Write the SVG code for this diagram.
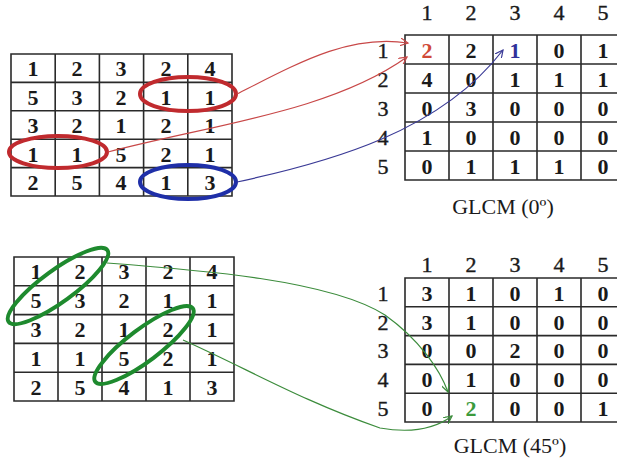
<svg xmlns="http://www.w3.org/2000/svg" width="617" height="461" viewBox="0 0 617 461">
<style>
.grid{fill:none;stroke:#2a2a2a;stroke-width:1.6}
.v{font-family:"Liberation Serif","Times New Roman",serif;font-size:22px;font-weight:bold;fill:#1a1a1a;text-anchor:middle}
.h{font-family:"Liberation Serif","Times New Roman",serif;font-size:22px;fill:#1a1a1a;text-anchor:middle;stroke:#1a1a1a;stroke-width:0.4}
.cap{font-family:"Liberation Serif","Times New Roman",serif;font-size:22px;fill:#1a1a1a;text-anchor:middle}
.ell{fill:none;stroke-width:4}
.con{fill:none;stroke-width:1.2}
</style>
<defs>
<marker id="ar" markerWidth="10" markerHeight="8" refX="8" refY="4" orient="auto" markerUnits="userSpaceOnUse"><path d="M0,0 L8,4 L0,8" fill="none" stroke="#c84848" stroke-width="1.2"/></marker>
<marker id="ab" markerWidth="10" markerHeight="8" refX="8" refY="4" orient="auto" markerUnits="userSpaceOnUse"><path d="M0,0 L8,4 L0,8" fill="none" stroke="#3a3a96" stroke-width="1.2"/></marker>
<marker id="ag" markerWidth="10" markerHeight="8" refX="8" refY="4" orient="auto" markerUnits="userSpaceOnUse"><path d="M0,0 L8,4 L0,8" fill="none" stroke="#3c8c3c" stroke-width="1.2"/></marker>
</defs>
<rect width="617" height="461" fill="#ffffff"/>

<g id="matrix-top">
<path class="grid" d="M11,54H232V196H11Z M11,82.4H232 M11,110.8H232 M11,139.2H232 M11,167.6H232 M55.2,54V196 M99.4,54V196 M143.6,54V196 M187.8,54V196"/>
<text class="v" x="33" y="76">1</text><text class="v" x="77" y="76">2</text><text class="v" x="121" y="76">3</text><text class="v" x="166" y="76">2</text><text class="v" x="210" y="76">4</text>
<text class="v" x="33" y="104.5">5</text><text class="v" x="77" y="104.5">3</text><text class="v" x="121" y="104.5">2</text><text class="v" x="166" y="104.5">1</text><text class="v" x="210" y="104.5">1</text>
<text class="v" x="33" y="133">3</text><text class="v" x="77" y="133">2</text><text class="v" x="121" y="133">1</text><text class="v" x="166" y="133">2</text><text class="v" x="210" y="133">1</text>
<text class="v" x="33" y="161.5">1</text><text class="v" x="77" y="161.5">1</text><text class="v" x="121" y="161.5">5</text><text class="v" x="166" y="161.5">2</text><text class="v" x="210" y="161.5">1</text>
<text class="v" x="33" y="189.5">2</text><text class="v" x="77" y="189.5">5</text><text class="v" x="121" y="189.5">4</text><text class="v" x="166" y="189.5">1</text><text class="v" x="210" y="189.5">3</text>
</g>

<g id="glcm-0">
<path class="grid" d="M405,35H625V180H405Z M405,64H625 M405,93H625 M405,122H625 M405,151H625 M449,35V180 M493,35V180 M537,35V180 M581,35V180"/>
<text class="h" x="427" y="20">1</text><text class="h" x="471" y="20">2</text><text class="h" x="515" y="20">3</text><text class="h" x="559" y="20">4</text><text class="h" x="603" y="20">5</text>
<text class="h" x="383" y="57.5">1</text><text class="h" x="383" y="86.5">2</text><text class="h" x="383" y="115.5">3</text><text class="h" x="383" y="144.5">4</text><text class="h" x="383" y="173.5">5</text>
<text class="v" x="427" y="57.5" style="fill:#d04a38">2</text><text class="v" x="471" y="57.5">2</text><text class="v" x="515" y="57.5" style="fill:#30309a">1</text><text class="v" x="559" y="57.5">0</text><text class="v" x="603" y="57.5">1</text>
<text class="v" x="427" y="86.5">4</text><text class="v" x="471" y="86.5">0</text><text class="v" x="515" y="86.5">1</text><text class="v" x="559" y="86.5">1</text><text class="v" x="603" y="86.5">1</text>
<text class="v" x="427" y="115.5">0</text><text class="v" x="471" y="115.5">3</text><text class="v" x="515" y="115.5">0</text><text class="v" x="559" y="115.5">0</text><text class="v" x="603" y="115.5">0</text>
<text class="v" x="427" y="144.5">1</text><text class="v" x="471" y="144.5">0</text><text class="v" x="515" y="144.5">0</text><text class="v" x="559" y="144.5">0</text><text class="v" x="603" y="144.5">0</text>
<text class="v" x="427" y="173.5">0</text><text class="v" x="471" y="173.5">1</text><text class="v" x="515" y="173.5">1</text><text class="v" x="559" y="173.5">1</text><text class="v" x="603" y="173.5">0</text>
<text class="cap" x="503" y="214">GLCM (0º)</text>
</g>

<g id="matrix-bottom">
<path class="grid" d="M14,257H234V401H14Z M14,285.8H234 M14,314.6H234 M14,343.4H234 M14,372.2H234 M58,257V401 M102,257V401 M146,257V401 M190,257V401"/>
<text class="v" x="36" y="279">1</text><text class="v" x="80" y="279">2</text><text class="v" x="124" y="279">3</text><text class="v" x="168" y="279">2</text><text class="v" x="212" y="279">4</text>
<text class="v" x="36" y="308">5</text><text class="v" x="80" y="308">3</text><text class="v" x="124" y="308">2</text><text class="v" x="168" y="308">1</text><text class="v" x="212" y="308">1</text>
<text class="v" x="36" y="337">3</text><text class="v" x="80" y="337">2</text><text class="v" x="124" y="337">1</text><text class="v" x="168" y="337">2</text><text class="v" x="212" y="337">1</text>
<text class="v" x="36" y="365.5">1</text><text class="v" x="80" y="365.5">1</text><text class="v" x="124" y="365.5">5</text><text class="v" x="168" y="365.5">2</text><text class="v" x="212" y="365.5">1</text>
<text class="v" x="36" y="394.5">2</text><text class="v" x="80" y="394.5">5</text><text class="v" x="124" y="394.5">4</text><text class="v" x="168" y="394.5">1</text><text class="v" x="212" y="394.5">3</text>
</g>

<g id="glcm-45">
<path class="grid" d="M405,278H625V422H405Z M405,306.8H625 M405,335.6H625 M405,364.4H625 M405,393.2H625 M449,278V422 M493,278V422 M537,278V422 M581,278V422"/>
<text class="h" x="427" y="272">1</text><text class="h" x="471" y="272">2</text><text class="h" x="515" y="272">3</text><text class="h" x="559" y="272">4</text><text class="h" x="603" y="272">5</text>
<text class="h" x="383" y="300.5">1</text><text class="h" x="383" y="329.5">2</text><text class="h" x="383" y="358">3</text><text class="h" x="383" y="387">4</text><text class="h" x="383" y="415.5">5</text>
<text class="v" x="427" y="300.5">3</text><text class="v" x="471" y="300.5">1</text><text class="v" x="515" y="300.5">0</text><text class="v" x="559" y="300.5">1</text><text class="v" x="603" y="300.5">0</text>
<text class="v" x="427" y="329.5">3</text><text class="v" x="471" y="329.5">1</text><text class="v" x="515" y="329.5">0</text><text class="v" x="559" y="329.5">0</text><text class="v" x="603" y="329.5">0</text>
<text class="v" x="427" y="358">0</text><text class="v" x="471" y="358">0</text><text class="v" x="515" y="358">2</text><text class="v" x="559" y="358">0</text><text class="v" x="603" y="358">0</text>
<text class="v" x="427" y="387">0</text><text class="v" x="471" y="387">1</text><text class="v" x="515" y="387">0</text><text class="v" x="559" y="387">0</text><text class="v" x="603" y="387">0</text>
<text class="v" x="427" y="415.5">0</text><text class="v" x="471" y="415.5" style="fill:#3c9a3c">2</text><text class="v" x="515" y="415.5">0</text><text class="v" x="559" y="415.5">0</text><text class="v" x="603" y="415.5">1</text>
<text class="cap" x="510" y="453">GLCM (45º)</text>
</g>

<g id="highlights">
<ellipse class="ell" cx="188" cy="94" rx="48" ry="17" stroke="#c02a2e"/>
<ellipse class="ell" cx="58" cy="152" rx="49" ry="16" stroke="#c02a2e"/>
<ellipse class="ell" cx="188" cy="182" rx="48" ry="17" stroke="#1f2fa8"/>
<ellipse class="ell" cx="58" cy="286" rx="61" ry="16" stroke="#1e8a2e" transform="rotate(-36 58 286)"/>
<ellipse class="ell" cx="144" cy="345" rx="61" ry="16" stroke="#1e8a2e" transform="rotate(-37 144 345)"/>
</g>

<g id="connectors">
<path class="con" d="M237,94 C300,62 350,34 408,43" stroke="#c84848" marker-end="url(#ar)"/>
<path class="con" d="M108,152 C210,125 330,112 407,57" stroke="#c84848" marker-end="url(#ar)"/>
<path class="con" d="M237,182 C330,162 440,132 503,50" stroke="#3a3a96" marker-end="url(#ab)"/>
<path class="con" d="M107,263 C200,270 330,280 385,315 C420,340 440,370 448,392" stroke="#3c8c3c" marker-end="url(#ag)"/>
<path class="con" d="M183,340 C250,370 300,400 380,428 C420,435 440,425 452,416" stroke="#3c8c3c" marker-end="url(#ag)"/>
</g>
</svg>
